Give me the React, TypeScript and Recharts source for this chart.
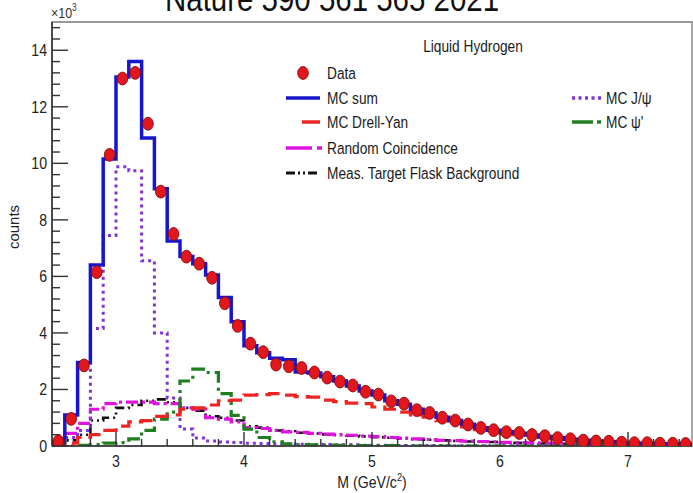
import React from 'react';
import { ComposedChart, Line, Scatter, XAxis, YAxis, ReferenceArea } from 'recharts';

// Dimuon invariant-mass spectrum, liquid hydrogen target (counts in units of 10^3)
const binLowEdges = Array.from({ length: 50 }, (_, i) => Math.round((2.5 + i * 0.1) * 10) / 10);
const histUpperEdge = 7.5;

const dataCounts = [
  0.17, 0.96, 2.85, 6.15, 10.3, 13.0, 13.2, 11.4, 9.0, 7.5,
  6.7, 6.45, 5.95, 5.05, 4.25, 3.62, 3.32, 2.88, 2.82, 2.76,
  2.6, 2.42, 2.28, 2.14, 1.92, 1.82, 1.58, 1.5, 1.27, 1.17,
  1.0, 0.9, 0.76, 0.64, 0.56, 0.49, 0.46, 0.39, 0.35, 0.28,
  0.24, 0.19, 0.16, 0.15, 0.12, 0.1, 0.1, 0.08, 0.08, 0.07,
];

const mcSum = [
  0.15, 1.1, 2.95, 6.4, 10.15, 13.05, 13.6, 10.9, 9.1, 7.25,
  6.7, 6.45, 6.05, 5.25, 4.4, 3.55, 3.3, 3.1, 3.05, 2.62,
  2.58, 2.45, 2.3, 2.12, 1.95, 1.8, 1.6, 1.48, 1.3, 1.17,
  1.02, 0.9, 0.77, 0.65, 0.56, 0.5, 0.45, 0.39, 0.34, 0.29,
  0.24, 0.2, 0.17, 0.15, 0.12, 0.1, 0.1, 0.08, 0.08, 0.07,
];

const mcDrellYan = [
  0.03, 0.1, 0.3, 0.4, 0.55, 0.7, 0.85, 0.9, 1.05, 1.1,
  1.3, 1.35, 1.45, 1.6, 1.62, 1.8, 1.82, 1.85, 1.8, 1.75,
  1.73, 1.62, 1.57, 1.52, 1.5, 1.38, 1.3, 1.2, 1.1, 1.02,
  0.9, 0.8, 0.68, 0.58, 0.5, 0.44, 0.4, 0.34, 0.3, 0.25,
  0.21, 0.17, 0.14, 0.13, 0.1, 0.09, 0.08, 0.07, 0.06, 0.06,
];

const randomCoincidence = [
  0.1, 0.45, 0.8, 1.3, 1.5, 1.55, 1.55, 1.55, 1.5, 1.5,
  1.35, 1.3, 1.0, 0.95, 0.85, 0.65, 0.62, 0.55, 0.5, 0.48,
  0.45, 0.42, 0.4, 0.38, 0.35, 0.33, 0.3, 0.28, 0.25, 0.23,
  0.2, 0.19, 0.17, 0.16, 0.15, 0.13, 0.12, 0.11, 0.1, 0.09,
  0.08, 0.07, 0.06, 0.06, 0.05, 0.05, 0.04, 0.04, 0.03, 0.03,
];

const flaskBackground = [
  0.05, 0.2, 0.4, 0.9, 1.0, 1.35, 1.45, 1.6, 1.65, 1.55,
  1.35, 1.25, 1.05, 1.0, 0.9, 0.7, 0.65, 0.55, 0.52, 0.47,
  0.44, 0.41, 0.39, 0.36, 0.34, 0.31, 0.29, 0.27, 0.24, 0.22,
  0.2, 0.18, 0.16, 0.15, 0.14, 0.12, 0.11, 0.1, 0.09, 0.08,
  0.07, 0.07, 0.06, 0.05, 0.05, 0.04, 0.04, 0.03, 0.03, 0.03,
];

const mcJpsi = [
  0.02, 0.3, 0.55, 4.16, 7.45, 9.88, 9.74, 6.55, 4.0, 1.7,
  0.6, 0.28, 0.18, 0.14, 0.12, 0.1, 0.09, 0.08, 0.07, 0.06,
  0.05, 0.05, 0.04, 0.04, 0.03, 0.03, 0.03, 0.02, 0.02, 0.02,
  0.02, 0.01, 0.01, 0.01, 0.01, 0.01, 0.01, 0.01, 0.0, 0.0,
  0.0, 0.0, 0.0, 0.0, 0.0, 0.0, 0.0, 0.0, 0.0, 0.0,
];

const mcPsiPrime = [
  0.0, 0.0, 0.02, 0.05, 0.1, 0.12, 0.25, 0.55, 0.95, 1.2,
  2.3, 2.72, 2.6, 1.85, 1.08, 0.6, 0.3, 0.15, 0.08, 0.05,
  0.04, 0.03, 0.02, 0.02, 0.01, 0.01, 0.01, 0.0, 0.0, 0.0,
  0.0, 0.0, 0.0, 0.0, 0.0, 0.0, 0.0, 0.0, 0.0, 0.0,
  0.0, 0.0, 0.0, 0.0, 0.0, 0.0, 0.0, 0.0, 0.0, 0.0,
];

const xMajorTicks = [3, 4, 5, 6, 7];
const xTicks = Array.from({ length: 25 }, (_, i) => Math.round((2.6 + i * 0.2) * 10) / 10);
const yMajorTicks = [0, 2, 4, 6, 8, 10, 12, 14];
const yTicks = Array.from({ length: 38 }, (_, i) => Math.round(i * 4) / 10);

const X_DOMAIN: [number, number] = [2.5, 7.5];
const Y_DOMAIN: [number, number] = [0, 15];

// Step rows: each row starts a bin; the final row closes the last bin
const stepRows = binLowEdges.map((x, i) => ({
  x,
  sum: mcSum[i],
  dy: mcDrellYan[i],
  rc: randomCoincidence[i],
  flask: flaskBackground[i],
  jpsi: mcJpsi[i],
  psip: mcPsiPrime[i],
}));
stepRows.push({ ...stepRows[stepRows.length - 1], x: histUpperEdge });

const dataPoints = binLowEdges.map((x, i) => ({ x: Math.round((x + 0.05) * 100) / 100, y: dataCounts[i] }));

const FONT = "'Liberation Sans', Arial, sans-serif";
const SQUEEZE = 0.83;
const AXIS_COLOR = '#333';
const PLOT_LEFT = 52;
const PLOT_BOTTOM = 446;

const COLORS = {
  data: '#e3161c',
  sum: '#1616cf',
  dy: '#ee2424',
  rc: '#e012e0',
  flask: '#111111',
  jpsi: '#7f34d8',
  psip: '#1f7f1f',
};

const DASH = {
  dy: '15 7',
  rc: '12 4 3 4',
  flask: '9 4 2 4 2 4',
  jpsi: '3 4',
  psip: '14 5 3 5',
};

// Horizontally condensed text, anchored at (x, y)
const CText = ({ x, y, size, anchor = 'start', fill = '#1a1a1a', children }: any) => (
  <text
    transform={`translate(${x} ${y}) scale(${SQUEEZE} 1)`}
    textAnchor={anchor}
    fontFamily={FONT}
    fontSize={size}
    fill={fill}
  >
    {children}
  </text>
);

const isMultiple = (v: number, step: number) => Math.abs(v / step - Math.round(v / step)) < 1e-6;

const YTick = (props: any) => {
  const { y, payload } = props;
  const v = payload.value;
  const major = yMajorTicks.some((t) => Math.abs(t - v) < 1e-6);
  return (
    <g>
      <line x1={PLOT_LEFT} x2={PLOT_LEFT + (major ? 16 : 8)} y1={y} y2={y} stroke={AXIS_COLOR} strokeWidth={1.4} />
      {major && (
        <CText x={PLOT_LEFT - 5} y={y + 6} size={17} anchor="end" fill="#222">
          {v}
        </CText>
      )}
    </g>
  );
};

const XTick = (props: any) => {
  const { x, payload } = props;
  const v = payload.value;
  const major = isMultiple(v, 1);
  return (
    <g>
      <line x1={x} x2={x} y1={PLOT_BOTTOM} y2={PLOT_BOTTOM - (major ? 14 : 7)} stroke={AXIS_COLOR} strokeWidth={1.4} />
      {major && (
        <CText x={x} y={PLOT_BOTTOM + 21} size={17} anchor="middle" fill="#222">
          {v}
        </CText>
      )}
    </g>
  );
};

const DataMarker = (props: any) => {
  const { cx, cy } = props;
  if (cx == null || cy == null) return null;
  return <ellipse cx={cx} cy={cy} rx={5.3} ry={6.4} fill={COLORS.data} stroke="#8a0c0c" strokeWidth={0.9} />;
};

const LEG = 16.5;

const Overlay = () => (
  <svg width={693} height={493} style={{ position: 'absolute', left: 0, top: 0, pointerEvents: 'none' }}>
    <CText x={165} y={11} size={35.5} fill="#111">Nature 590 561 565 2021</CText>
    <CText x={51} y={18} size={15} fill="#333">
      ×10<tspan dy={-7} fontSize={10}>3</tspan>
    </CText>
    <text
      x={0}
      y={0}
      transform="translate(19,227) rotate(-90)"
      textAnchor="middle"
      fontFamily={FONT}
      fontSize={15}
      fill="#222"
    >
      counts
    </text>
    <CText x={372} y={488} size={17} anchor="middle" fill="#222">
      M (GeV/c<tspan dy={-7} fontSize={11}>2</tspan>
      <tspan dy={7}>)</tspan>
    </CText>

    <CText x={473} y={52} size={LEG} anchor="middle">Liquid Hydrogen</CText>

    <ellipse cx={303} cy={73} rx={5.3} ry={6.4} fill={COLORS.data} stroke="#8a0c0c" strokeWidth={0.9} />
    <CText x={327} y={79} size={LEG}>Data</CText>

    <line x1={286} x2={320} y1={98} y2={98} stroke={COLORS.sum} strokeWidth={3.5} />
    <CText x={327} y={104} size={LEG}>MC sum</CText>

    <line x1={302} x2={320} y1={122} y2={122} stroke={COLORS.dy} strokeWidth={3.5} />
    <CText x={327} y={128} size={LEG}>MC Drell-Yan</CText>

    <line x1={286} x2={312} y1={148} y2={148} stroke={COLORS.rc} strokeWidth={3.5} />
    <line x1={317} x2={322} y1={148} y2={148} stroke={COLORS.rc} strokeWidth={3.5} />
    <CText x={327} y={154} size={LEG}>Random Coincidence</CText>

    <line x1={286} x2={320} y1={173} y2={173} stroke={COLORS.flask} strokeWidth={3} strokeDasharray="9 3 2 3 2 3" />
    <CText x={327} y={179} size={LEG}>Meas. Target Flask Background</CText>

    <line x1={572} x2={602} y1={98} y2={98} stroke={COLORS.jpsi} strokeWidth={3.5} strokeDasharray="3 3.5" />
    <CText x={606} y={104} size={LEG}>MC J/ψ</CText>

    <line x1={572} x2={593} y1={122} y2={122} stroke={COLORS.psip} strokeWidth={3.5} />
    <line x1={597} x2={601} y1={122} y2={122} stroke={COLORS.psip} strokeWidth={3.5} />
    <CText x={606} y={128} size={LEG}>MC ψ'</CText>
  </svg>
);

export default function App() {
  return (
    <div style={{ position: 'absolute', left: 0, top: 0, width: 693, height: 493, background: '#fff', overflow: 'hidden' }}>
      <ComposedChart
        width={693}
        height={493}
        data={stepRows}
        margin={{ top: 22, right: 1, bottom: 0, left: 0 }}
      >
        <XAxis
          dataKey="x"
          type="number"
          domain={X_DOMAIN}
          ticks={xTicks}
          interval={0}
          allowDataOverflow
          height={47}
          tickSize={0}
          tickMargin={0}
          tickLine={false}
          tick={<XTick />}
          axisLine={{ stroke: AXIS_COLOR, strokeWidth: 1.6 }}
        />
        <YAxis
          type="number"
          domain={Y_DOMAIN}
          ticks={yTicks}
          interval={0}
          allowDataOverflow
          width={52}
          tickSize={0}
          tickMargin={0}
          tickLine={false}
          tick={<YTick />}
          axisLine={{ stroke: AXIS_COLOR, strokeWidth: 1.6 }}
        />
        <ReferenceArea
          x1={X_DOMAIN[0]}
          x2={X_DOMAIN[1]}
          y1={Y_DOMAIN[0]}
          y2={Y_DOMAIN[1]}
          fill="none"
          fillOpacity={0}
          stroke="#777"
          strokeWidth={1.3}
        />
        <Line dataKey="flask" type="stepAfter" stroke={COLORS.flask} strokeWidth={2.6} strokeDasharray={DASH.flask} dot={false} activeDot={false} isAnimationActive={false} />
        <Line dataKey="rc" type="stepAfter" stroke={COLORS.rc} strokeWidth={3.2} strokeDasharray={DASH.rc} dot={false} activeDot={false} isAnimationActive={false} />
        <Line dataKey="jpsi" type="stepAfter" stroke={COLORS.jpsi} strokeWidth={3} strokeDasharray={DASH.jpsi} dot={false} activeDot={false} isAnimationActive={false} />
        <Line dataKey="psip" type="stepAfter" stroke={COLORS.psip} strokeWidth={3.2} strokeDasharray={DASH.psip} dot={false} activeDot={false} isAnimationActive={false} />
        <Line dataKey="dy" type="stepAfter" stroke={COLORS.dy} strokeWidth={3.2} strokeDasharray={DASH.dy} dot={false} activeDot={false} isAnimationActive={false} />
        <Line dataKey="sum" type="stepAfter" stroke={COLORS.sum} strokeWidth={3.5} dot={false} activeDot={false} isAnimationActive={false} />
        <Scatter data={dataPoints} dataKey="y" shape={<DataMarker />} isAnimationActive={false} />
      </ComposedChart>
      <Overlay />
    </div>
  );
}
